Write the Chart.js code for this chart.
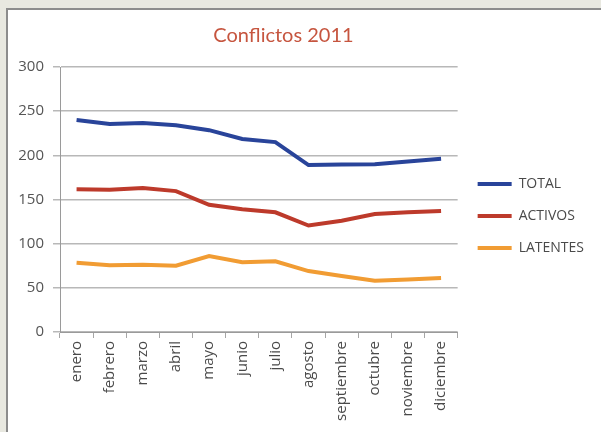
<!DOCTYPE html>
<html>
<head>
<meta charset="utf-8">
<script src="https://cdn.jsdelivr.net/npm/chart.js@4/dist/chart.umd.min.js"></script>
<style>
  html, body { margin: 0; padding: 0; }
  body { width: 601px; height: 432px; background: #e8e8e0; position: relative; overflow: hidden; }
  #panel { position: absolute; left: 6px; top: 8px; width: 620px; height: 440px; background: #ffffff;
           border-left: 2px solid #8c8c8c; border-top: 2px solid #8c8c8c; box-sizing: border-box; }
  #wrap { position: absolute; left: 0; top: 0; width: 601px; height: 432px; }
</style>
</head>
<body>
<div id="panel"></div>
<div id="wrap"><canvas id="c" width="601" height="432"></canvas></div>
<script>
const months = ["enero", "febrero", "marzo", "abril", "mayo", "junio", "julio", "agosto", "septiembre", "octubre", "noviembre", "diciembre"];
const total = [240, 235.5, 236.5, 234, 228.5, 218.5, 215, 189, 189.5, 190, 193, 196];
const activos = [161.5, 161, 163, 159.5, 144, 139, 135.5, 120.5, 126, 133.5, 135.5, 137];
const latentes = [78.5, 75.5, 76, 75, 86, 79, 80, 69, 63.5, 58, 59.5, 61];
const seriesNames = ["TOTAL", "ACTIVOS", "LATENTES"];
const yTicks = [0, 50, 100, 150, 200, 250, 300];

const colors = ["#29449a", "#bd3a2b", "#f19c33"];

const shiftPlugin = {
  id: 'shiftPlugin',
  afterLayout(chart) {
    if (chart.titleBlock) { chart.titleBlock.right -= 43; }
    if (chart.legend) { chart.legend.left += 2; chart.legend.right += 2; }
  }
};

new Chart(document.getElementById('c'), {
  type: 'line',
  data: {
    labels: months,
    datasets: [
      { label: seriesNames[0], data: total },
      { label: seriesNames[1], data: activos },
      { label: seriesNames[2], data: latentes }
    ].map((d, i) => Object.assign(d, {
      borderColor: colors[i], backgroundColor: colors[i], borderWidth: 4,
      pointRadius: 0, tension: 0, fill: false
    }))
  },
  options: {
    responsive: false,
    animation: false,
    devicePixelRatio: 1,
    layout: { padding: { left: 18, right: 9, top: 0, bottom: 0 } },
    plugins: {
      title: {
        display: true, text: 'Conflictos 2011', color: '#c6553f',
        font: { family: 'Lato', size: 20, weight: 'normal' },
        padding: { top: 24, bottom: 19 }
      },
      legend: {
        position: 'right', align: 'center',
        labels: {
          boxWidth: 34, boxHeight: 4, padding: 18, color: '#4a4a4a',
          font: { family: 'Open Sans', size: 14 },
          generateLabels(chart) {
            return Chart.defaults.plugins.legend.labels.generateLabels(chart).map(l => Object.assign(l, { lineWidth: 0 }));
          }
        }
      },
      tooltip: { enabled: false }
    },
    scales: {
      x: {
        type: 'category',
        offset: true,
        afterFit(s) { s.height = 100; },
        grid: { display: true, offset: true, drawOnChartArea: false, drawTicks: true, tickLength: 6, color: '#a6a6a6', lineWidth: 1 },
        border: { display: true, color: '#9a9a9a', width: 1 },
        ticks: { maxRotation: 90, minRotation: 90, autoSkip: false, padding: 3, color: '#4a4a4a',
                 font: { family: 'Open Sans', size: 15 } }
      },
      y: {
        min: 0, max: 300,
        afterFit(s) { s.width = 42; },
        afterBuildTicks(s) { s.ticks = yTicks.map(v => ({ value: v })); },
        grid: { color: '#b8b8b8', lineWidth: 1.5, tickLength: 7, drawTicks: true },
        border: { display: true, color: '#9a9a9a', width: 1 },
        ticks: { padding: 9, color: '#555555', font: { family: 'Open Sans', size: 15 } }
      }
    }
  },
  plugins: [shiftPlugin]
});
</script>
</body>
</html>
